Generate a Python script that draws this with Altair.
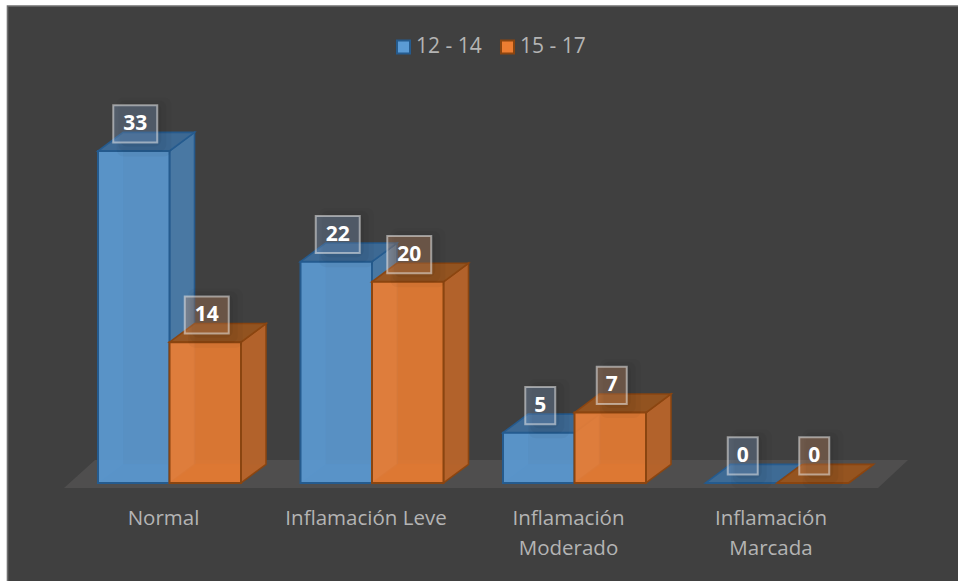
import altair as alt
import pandas as pd

categories = ["Normal", "Inflamación Leve", "Inflamación\nModerado", "Inflamación\nMarcada"]
series_names = ["12 - 14", "15 - 17"]
values_12_14 = [33, 22, 5, 0]
values_15_17 = [14, 20, 7, 0]

W, H = 958, 581
Y_DOMAIN = [-9.74, 48.01]      # data units spanned by the canvas height
BAR_W = 71.5
GROUP_START = 98
GROUP_STEP = 202.5
DEPTH_X = 25
DEPTH_Y = 1.85                 # depth of the boxes in data units

PALETTE = {
    "12 - 14": dict(front="#5b9bd5", side="#4a7ba9", top="#3d6b98", wall="#6aa5dc", back="#4d7fae",
                    edge="#255b8e", tint="#7f9fc8"),
    "15 - 17": dict(front="#ed7d31", side="#b8642a", top="#97541f", wall="#f08c48", back="#b8642a",
                    edge="#8a4510", tint="#d08f62"),
}

x_scale = alt.Scale(domain=[0, W], range=[0, W])
y_scale = alt.Scale(domain=Y_DOMAIN, range=[H, 0])

rows = []
for s, vals in enumerate([values_12_14, values_15_17]):
    for g, v in enumerate(vals):
        x0 = GROUP_START + g * GROUP_STEP + s * BAR_W
        rows.append(dict(series=series_names[s], group=g, value=v, x0=x0, x1=x0 + BAR_W,
                         tint=PALETTE[series_names[s]]["tint"]))
bars = pd.DataFrame(rows)


def vertical_face(df, kind):
    """Parallelogram running back along the depth axis, with vertical end edges."""
    out = []
    for r in df.itertuples():
        edge = r.x0 if kind == "left" else r.x1
        for t in (0, 1):
            out.append(dict(group=r.group, x=edge + t * DEPTH_X,
                            y=r.value + t * DEPTH_Y, y2=t * DEPTH_Y))
    return pd.DataFrame(out)


def horizontal_face(df, top):
    """Parallelogram running back along the depth axis, with horizontal end edges."""
    out = []
    for r in df.itertuples():
        level = r.value if top else 0
        for t in (0, 1):
            out.append(dict(group=r.group, x=r.x0 + t * DEPTH_X, x2=r.x1 + t * DEPTH_X,
                            y=level + t * DEPTH_Y))
    return pd.DataFrame(out)


X = lambda f="x": alt.X(f"{f}:Q", scale=x_scale, axis=None)
Y = lambda f="y": alt.Y(f"{f}:Q", scale=y_scale, axis=None)


def side_layer(df, fill, edge, opacity, width=1.5):
    return alt.Chart(df).mark_area(orient="vertical", fill=fill, fillOpacity=opacity, stroke=edge,
                                   strokeWidth=width, strokeOpacity=opacity).encode(
        x=X(), y=Y(), y2="y2:Q", detail="group:N")


def flat_layer(df, fill, edge, opacity, width=1.5):
    return alt.Chart(df).mark_area(orient="horizontal", fill=fill, fillOpacity=opacity, stroke=edge,
                                   strokeWidth=width, strokeOpacity=opacity).encode(
        y=Y(), x=X(), x2="x2:Q", detail="group:N")


# Dark panel with a thin lighter border; it runs off the right and bottom of the canvas
panel = pd.DataFrame({"x": [7.5], "x2": [W + 10], "y": [47.41], "y2": [-11]})
layers = [alt.Chart(panel).mark_rect(fill="#404040", stroke="#707070", strokeWidth=1.6).encode(
    x=X(), x2="x2:Q", y=Y(), y2="y2:Q")]

# Floor plate under all the boxes
floor = pd.DataFrame({"y": [-0.5, 2.28], "x": [64, 95], "x2": [878, 908], "group": [0, 0]})
layers.append(alt.Chart(floor).mark_area(orient="horizontal", fill="#4f4e4e").encode(
    y=Y(), x=X(), x2="x2:Q", detail="group:N"))

# Boxes: hidden faces first, then side, top and front of each series
for name in series_names:
    p = PALETTE[name]
    d = bars[bars.series == name]
    layers += [
        flat_layer(horizontal_face(d, top=False), p["back"], p["edge"], 0.3, 1),
        side_layer(vertical_face(d, "left"), p["wall"], p["edge"], 0.25, 0.4),
        side_layer(vertical_face(d, "right"), p["side"], p["edge"], 0.95, 1.6),
        flat_layer(horizontal_face(d, top=True), p["top"], p["edge"], 0.95, 1.6),
        alt.Chart(d).mark_rect(fill=p["front"], fillOpacity=0.88, stroke=p["edge"], strokeWidth=2).encode(
            x=X("x0"), x2="x1:Q", y=Y("value"), y2=alt.datum(0)),
    ]

# Value boxes sitting above each bar
labels = bars.assign(
    cx=(bars.x0 + bars.x1) / 2 + 1.5,
    half=[22 if v >= 10 else 15 for v in bars.value],
    base=bars.value + 2.7,
    low=bars.value + 0.85,
    high=bars.value + 4.55,
)
labels["left"] = labels.cx - labels.half
labels["right"] = labels.cx + labels.half

# Soft dark halo to the lower right of the boxes, stacked translucent rectangles
for grow, alpha in [(14, 0.03), (9, 0.035), (4, 0.05)]:
    halo = labels.assign(l=labels.left + 8 - grow / 3, r=labels.right + grow,
                         lo=labels.low - grow / 10, hi=labels.high + grow / 18)
    layers.append(alt.Chart(halo).mark_rect(fill="#000000", fillOpacity=alpha, cornerRadius=7).encode(
        x=X("l"), x2="r:Q", y=Y("lo"), y2="hi:Q"))

layers.append(alt.Chart(labels).mark_rect(fillOpacity=0.32, stroke="#e8e8e8",
                                          strokeOpacity=0.55, strokeWidth=2).encode(
    x=X("left"), x2="right:Q", y=Y("low"), y2="high:Q", fill=alt.Fill("tint:N", scale=None)))
layers.append(alt.Chart(labels).mark_text(font="Open Sans", fontWeight="bold", fontSize=21, color="#ffffff").encode(
    x=X("cx"), y=Y("base"), text="value:Q"))

# Category captions under the floor
captions = pd.DataFrame({
    "label": categories,
    "x": [GROUP_START + g * GROUP_STEP + 65.5 for g in range(len(categories))],
    "y": [-3.55] * len(categories),
})
layers.append(alt.Chart(captions).mark_text(font="Open Sans", fontSize=20.5, color="#b4b4b4", lineBreak="\n",
                                            lineHeight=30, baseline="middle").encode(
    x=X(), y=Y(), text="label:N"))

# Legend carried by an invisible square layer
legend_scale_fill = alt.Scale(domain=series_names, range=[PALETTE[n]["front"] for n in series_names])
legend_scale_edge = alt.Scale(domain=series_names, range=[PALETTE[n]["edge"] for n in series_names])
legend = alt.Legend(orient="none", legendX=393, legendY=36, direction="horizontal", title=None,
                    symbolType="square", symbolSize=170, symbolStrokeWidth=2, symbolOpacity=1,
                    labelFont="Open Sans", labelFontSize=21, labelColor="#b4b4b4", columnPadding=14, labelOffset=2)
key = pd.DataFrame({"series": series_names, "x": [0, 0], "y": [0, 0]})
layers.append(alt.Chart(key).mark_square(size=0, opacity=0).encode(
    x=X(), y=Y(),
    fill=alt.Fill("series:N", scale=legend_scale_fill, legend=legend),
    stroke=alt.Stroke("series:N", scale=legend_scale_edge, legend=legend),
))

chart = alt.layer(*layers).properties(
    width=W, height=H, background="#ffffff", padding=0,
    autosize=alt.AutoSizeParams(type="none"),
).configure_view(stroke=None)

chart.save("out.html", embed_options={"renderer": "svg", "actions": False})
